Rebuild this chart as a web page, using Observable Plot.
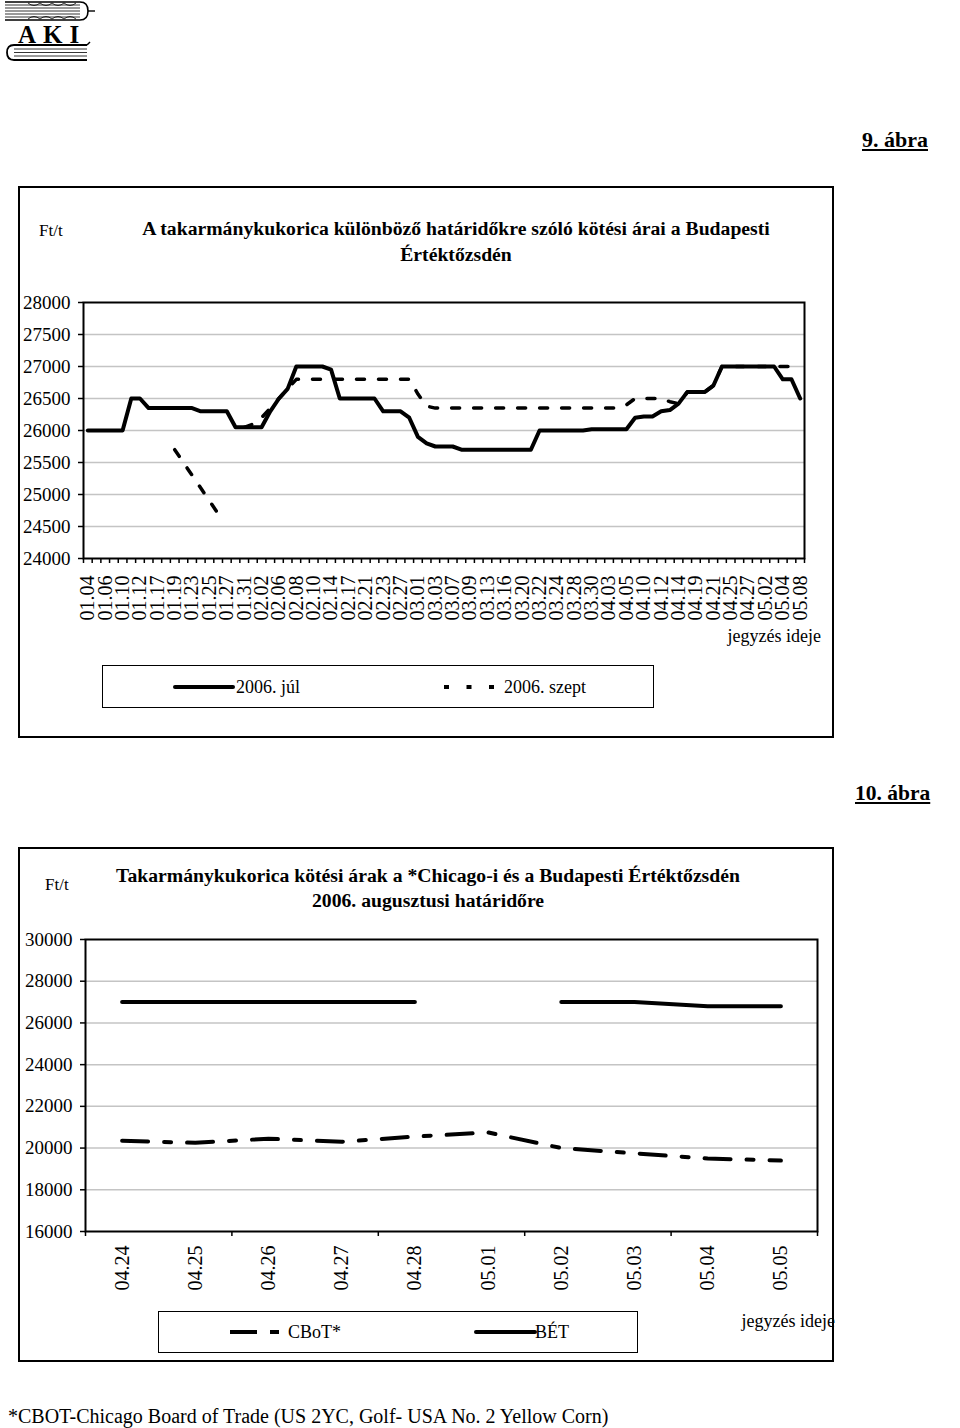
<!DOCTYPE html>
<html><head><meta charset="utf-8">
<script src="https://cdn.jsdelivr.net/npm/d3@7"></script>
<script src="https://cdn.jsdelivr.net/npm/@observablehq/plot@0.6"></script>
<style>
html,body{margin:0;padding:0;background:#fff}
body{font-family:"Liberation Serif","Times New Roman",serif;color:#000}
#page{position:relative;width:960px;height:1428px;overflow:hidden;background:#fff}
.t{position:absolute;white-space:nowrap;line-height:1}
.frame{position:absolute;border:2px solid #000;box-sizing:border-box}
.box{position:absolute;border:1.5px solid #000;box-sizing:border-box}
.chart{position:absolute}
.chart svg{overflow:visible}
</style>
</head><body>
<div id="page">
  <svg class="chart" style="left:0;top:0" width="100" height="62">
    <g stroke="#000" fill="none">
      <path d="M5 2 H80 Q88 2 88 11 Q88 20 80 20 H5" stroke-width="1.6"/>
      <line x1="5" y1="5" x2="80" y2="5" stroke-width="0.8"/>
      <line x1="5" y1="8" x2="80" y2="8" stroke-width="0.8"/>
      <line x1="5" y1="11" x2="80" y2="11" stroke-width="0.8"/>
      <line x1="5" y1="14" x2="80" y2="14" stroke-width="0.8"/>
      <line x1="5" y1="17" x2="80" y2="17" stroke-width="0.8"/>
      <path d="M28 3 q6 5 12 0 q6 5 12 0 q6 5 12 0 q6 5 12 0 M28 19 q6 -5 12 0 q6 -5 12 0 q6 -5 12 0 q6 -5 12 0" stroke-width="0.8"/>
      <line x1="88" y1="11" x2="95" y2="11" stroke-width="1.4"/>
      <path d="M87 45 H14 Q7 45 7 52.5 Q7 60 14 60 H87" stroke-width="1.8"/>
      <line x1="14" y1="49" x2="87" y2="49" stroke-width="0.8"/>
      <line x1="14" y1="52.5" x2="87" y2="52.5" stroke-width="0.8"/>
      <line x1="14" y1="56" x2="87" y2="56" stroke-width="0.8"/>
      <line x1="87" y1="45" x2="90" y2="42" stroke-width="1.4"/>
    </g>
    <text x="18" y="43" font-family="Liberation Serif" font-weight="bold" font-size="25" letter-spacing="7">AKI</text>
  </svg>

  <div class="t" style="left:862px;top:129px;font-size:22px;font-weight:bold;text-decoration:underline">9. ábra</div>

  <div class="frame" style="left:18px;top:186px;width:816px;height:552px"></div>
  <div class="t" style="left:39px;top:222px;font-size:17px">Ft/t</div>
  <div class="t" style="left:456px;top:215px;transform:translateX(-50%);font-size:19.7px;font-weight:bold;text-align:center;line-height:26px">A takarmánykukorica különböző határidőkre szóló kötési árai a Budapesti<br>Értéktőzsdén</div>
  <div id="c1" class="chart" style="left:0;top:280px"></div>
  <div class="t" style="left:821px;top:627px;transform:translateX(-100%);font-size:18px">jegyzés ideje</div>
  <div class="box" style="left:102px;top:665px;width:552px;height:43px">
    <svg style="position:absolute;left:0;top:0" width="550" height="41">
      <line x1="72" y1="21" x2="130" y2="21" stroke="#000" stroke-width="4" stroke-linecap="round"/>
      <line x1="341" y1="21" x2="393" y2="21" stroke="#000" stroke-width="4" stroke-dasharray="5,17.5"/>
    </svg>
    <div class="t" style="left:133px;top:12px;font-size:18px">2006. júl</div>
    <div class="t" style="left:401px;top:12px;font-size:18px">2006. szept</div>
  </div>

  <div class="t" style="left:855px;top:783px;font-size:21.5px;font-weight:bold;text-decoration:underline">10. ábra</div>

  <div class="frame" style="left:18px;top:847px;width:816px;height:515px"></div>
  <div class="t" style="left:45px;top:876px;font-size:17px">Ft/t</div>
  <div class="t" style="left:428px;top:863px;transform:translateX(-50%);font-size:19.7px;font-weight:bold;text-align:center;line-height:25px">Takarmánykukorica kötési árak a *Chicago-i és a Budapesti Értéktőzsdén<br>2006. augusztusi határidőre</div>
  <div id="c2" class="chart" style="left:0;top:920px"></div>
  <div class="t" style="left:835px;top:1312px;transform:translateX(-100%);font-size:18px">jegyzés ideje</div>
  <div class="box" style="left:158px;top:1311px;width:480px;height:42px">
    <svg style="position:absolute;left:0;top:0" width="478" height="40">
      <line x1="71" y1="20" x2="98" y2="20" stroke="#000" stroke-width="4"/>
      <line x1="111" y1="20" x2="120" y2="20" stroke="#000" stroke-width="4"/>
      <line x1="317" y1="20" x2="376" y2="20" stroke="#000" stroke-width="4" stroke-linecap="round"/>
    </svg>
    <div class="t" style="left:129px;top:11px;font-size:18px">CBoT*</div>
    <div class="t" style="left:376px;top:11px;font-size:18px">BÉT</div>
  </div>

  <div class="t" style="left:8px;top:1406px;font-size:20px">*CBOT-Chicago Board of Trade (US 2YC, Golf- USA No. 2 Yellow Corn)</div>
</div>

<script>
// ---- 9. ábra data ----
const dates1 = ["01.04","01.06","01.10","01.12","01.17","01.19","01.23","01.25","01.27","01.31",
  "02.02","02.06","02.08","02.10","02.14","02.17","02.21","02.23","02.27","03.01",
  "03.03","03.07","03.09","03.13","03.16","03.20","03.22","03.24","03.28","03.30",
  "04.03","04.05","04.10","04.12","04.14","04.19","04.21","04.25","04.27","05.02",
  "05.04","05.08"];
const yTicks1 = [24000,24500,25000,25500,26000,26500,27000,27500,28000];
const jul = [
  26000,26000,26000,26000,26000,26500,26500,26350,26350,26350,
  26350,26350,26350,26300,26300,26300,26300,26050,26050,26050,
  26050,26300,26500,26650,27000,27000,27000,27000,26950,26500,
  26500,26500,26500,26500,26300,26300,26300,26200,25900,25800,
  25750,25750,25750,25700,25700,25700,25700,25700,25700,25700,
  25700,25700,26000,26000,26000,26000,26000,26000,26020,26020,
  26020,26020,26020,26200,26220,26220,26300,26320,26420,26600,
  26600,26600,26700,27000,27000,27000,27000,27000,27000,27000,
  26800,26800,26500];
const szept = [
  null,null,null,null,null,null,null,null,null,null,
  25700,25500,25300,25100,24900,24700,null,null,26050,26100,
  26200,26350,26500,26650,26800,26800,26800,26800,26800,26800,
  26800,26800,26800,26800,26800,26800,26800,26800,26570,26380,
  26350,26350,26350,26350,26350,26350,26350,26350,26350,26350,
  26350,26350,26350,26350,26350,26350,26350,26350,26350,26350,
  26350,26350,26400,26500,26500,26500,26500,26450,26420,26600,
  26600,26600,26700,27000,27000,27000,27000,27000,27000,27000,
  27000,27000,27000];

// ---- 10. ábra data ----
const dates2 = ["04.24","04.25","04.26","04.27","04.28","05.01","05.02","05.03","05.04","05.05"];
const yTicks2 = [16000,18000,20000,22000,24000,26000,28000,30000];
const cbot = [20350,20250,20450,20300,20550,20750,20000,19750,19500,19400];
const bet  = [27000,27000,27000,27000,27000,null,27000,27000,26800,26800];

const FONT = '"Liberation Serif","Times New Roman",serif';

// chart 1
const n1 = jul.length;
const idx1 = d3.range(n1);
const bounds1 = d3.range(n1 + 1).map(i => i - 0.5);
const labelPos1 = dates1.map((d, k) => 2 * k);
const c1 = Plot.plot({
  width: 830, height: 360,
  marginLeft: 83, marginRight: 26, marginTop: 22, marginBottom: 82,
  style: {fontFamily: FONT, fontSize: "19px", background: "transparent", overflow: "visible", color: "#000"},
  x: {type: "linear", domain: [-0.5, n1 - 0.5]},
  y: {type: "linear", domain: [24000, 28000]},
  marks: [
    Plot.gridY(yTicks1.slice(1, -1), {stroke: "#c4c4c4", strokeOpacity: 1, strokeWidth: 1.5}),
    Plot.axisY(yTicks1, {tickSize: 5, tickPadding: 8, tickFormat: d => String(d), label: null, strokeWidth: 1.5, fontSize: 19}),
    Plot.axisX(bounds1, {tickSize: 5, tickFormat: () => "", label: null, strokeWidth: 1.5}),
    Plot.axisX(labelPos1, {tickSize: 0, tickPadding: 17, tickRotate: -90, tickFormat: i => dates1[i / 2], label: null, fontSize: 20}),
    Plot.line(idx1, {x: i => i, y: i => szept[i], stroke: "#000", strokeWidth: 3.5, strokeDasharray: "8,14"}),
    Plot.line(idx1, {x: i => i, y: i => jul[i], stroke: "#000", strokeWidth: 4, strokeLinejoin: "round", strokeLinecap: "round"}),
    Plot.frame({stroke: "#000", strokeWidth: 2})
  ]
});
document.getElementById("c1").append(c1);

// chart 2
const n2 = dates2.length;
const idx2 = d3.range(n2);
const bounds2 = d3.range(0, n2 + 1, 2).map(i => i - 0.5);
const c2 = Plot.plot({
  width: 840, height: 400,
  marginLeft: 85, marginRight: 23, marginTop: 19, marginBottom: 89,
  style: {fontFamily: FONT, fontSize: "19px", background: "transparent", overflow: "visible", color: "#000"},
  x: {type: "linear", domain: [-0.5, n2 - 0.5]},
  y: {type: "linear", domain: [16000, 30000]},
  marks: [
    Plot.gridY(yTicks2.slice(1, -1), {stroke: "#c4c4c4", strokeOpacity: 1, strokeWidth: 1.5}),
    Plot.axisY(yTicks2, {tickSize: 5, tickPadding: 8, tickFormat: d => String(d), label: null, strokeWidth: 1.5, fontSize: 19}),
    Plot.axisX(bounds2, {tickSize: 5, tickFormat: () => "", label: null, strokeWidth: 1.5}),
    Plot.axisX(idx2, {tickSize: 0, tickPadding: 14, tickRotate: -90, tickFormat: i => dates2[i], label: null, fontSize: 20}),
    Plot.line(idx2, {x: i => i, y: i => cbot[i], stroke: "#000", strokeWidth: 4, strokeDasharray: "26,16,7,16"}),
    Plot.line(idx2, {x: i => i, y: i => bet[i], stroke: "#000", strokeWidth: 4, strokeLinejoin: "round", strokeLinecap: "round"}),
    Plot.frame({stroke: "#000", strokeWidth: 2})
  ]
});
document.getElementById("c2").append(c2);
</script>
</body></html>
